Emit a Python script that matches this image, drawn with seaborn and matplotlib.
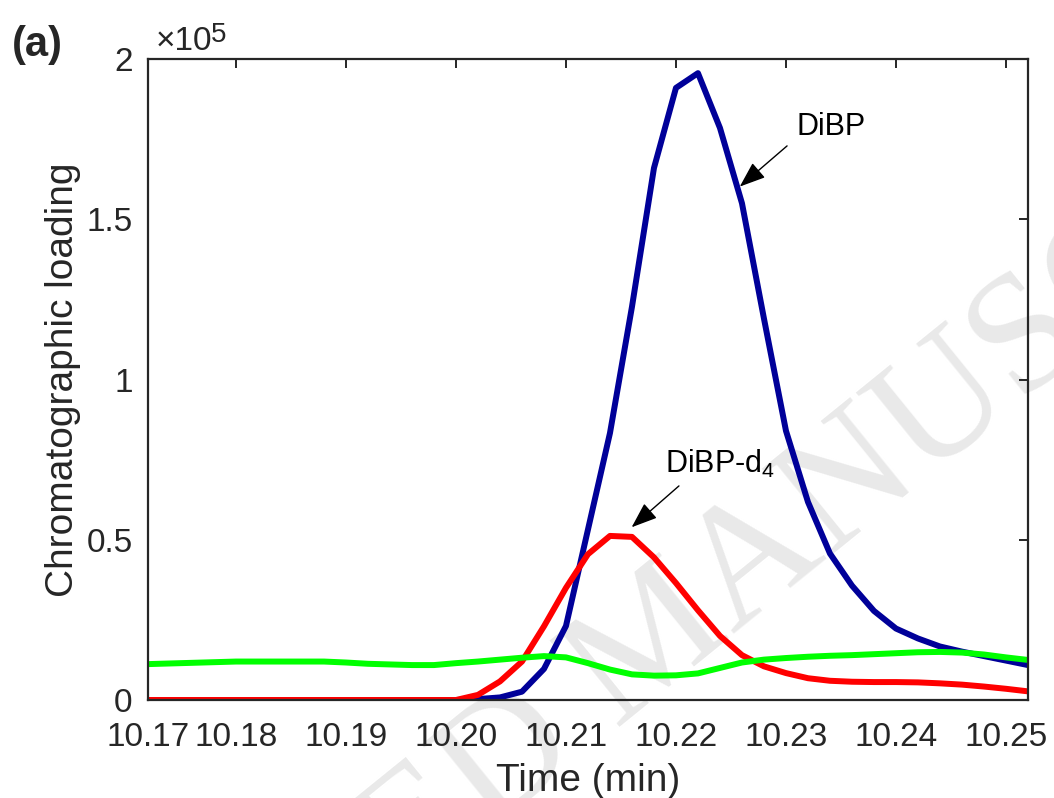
import numpy as np
import pandas as pd
import seaborn as sns
import matplotlib.pyplot as plt

# retention time (min)
time = [10.172, 10.174, 10.176, 10.178, 10.180, 10.182, 10.184, 10.186, 10.188, 10.190,
        10.192, 10.194, 10.196, 10.198, 10.200, 10.202, 10.204, 10.206, 10.208, 10.210,
        10.212, 10.214, 10.216, 10.218, 10.220, 10.222, 10.224, 10.226, 10.228, 10.230,
        10.232, 10.234, 10.236, 10.238, 10.240, 10.242, 10.244, 10.246, 10.248, 10.250,
        10.252]

# chromatographic loadings, in units of 1e5
dibp = [0, 0, 0, 0, 0, 0, 0, 0, 0, 0,
        0, 0, 0, 0, 0, 0.003, 0.008, 0.026, 0.097, 0.231,
        0.532, 0.833, 1.227, 1.66, 1.91, 1.956, 1.785, 1.55, 1.19, 0.84,
        0.618, 0.457, 0.357, 0.278, 0.223, 0.192, 0.167, 0.151, 0.137, 0.123,
        0.109]
dibp_d4 = [0, 0, 0, 0, 0, 0, 0, 0, 0, 0,
           0, 0, 0, 0, 0, 0.016, 0.058, 0.12, 0.23, 0.35,
           0.455, 0.512, 0.509, 0.445, 0.365, 0.28, 0.20, 0.14, 0.105, 0.084,
           0.068, 0.06, 0.057, 0.056, 0.056, 0.055, 0.052, 0.048, 0.042, 0.035,
           0.027]
background = [0.112, 0.114, 0.116, 0.118, 0.12, 0.12, 0.12, 0.12, 0.12, 0.117,
              0.113, 0.111, 0.109, 0.109, 0.115, 0.12, 0.126, 0.132, 0.137, 0.133,
              0.115, 0.095, 0.08, 0.076, 0.077, 0.083, 0.10, 0.117, 0.126, 0.131,
              0.135, 0.138, 0.140, 0.143, 0.146, 0.149, 0.150, 0.148, 0.142, 0.133,
              0.125]

xtick_vals = [10.172, 10.18, 10.19, 10.20, 10.21, 10.22, 10.23, 10.24, 10.25]
xtick_labels = ['10.17', '10.18', '10.19', '10.20', '10.21', '10.22', '10.23', '10.24', '10.25']
ytick_vals = [0, 0.5, 1, 1.5, 2]
ytick_labels = ['0', '0.5', '1', '1.5', '2']

df = pd.DataFrame({
    'time': time * 3,
    'loading': dibp + dibp_d4 + background,
    'comp': ['DiBP'] * len(time) + ['DiBP-d4'] * len(time) + ['bg'] * len(time),
})

sns.set_style('white')
plt.rcParams['font.family'] = ['Liberation Sans', 'DejaVu Sans']
plt.rcParams['mathtext.fontset'] = 'custom'
plt.rcParams['mathtext.rm'] = 'Liberation Sans'
plt.rcParams['mathtext.it'] = 'Liberation Sans:italic'
plt.rcParams['mathtext.bf'] = 'Liberation Sans:bold'

fig = plt.figure(figsize=(10.54, 7.98), dpi=100)
fig.patch.set_facecolor('white')
ax = fig.add_axes([0.1404, 0.1228, 0.8349, 0.8032])
ax.set_facecolor('none')

# watermark
fig.text(0.625, 0.195, 'ACCEPTED MANUSCRIPT', rotation=39, rotation_mode='anchor',
         ha='center', va='center', fontsize=122, family='Liberation Serif',
         color='#e9e9e9', zorder=-5)

pal = {'bg': '#00ff00', 'DiBP': '#000099', 'DiBP-d4': '#ff0000'}
sns.lineplot(data=df, x='time', y='loading', hue='comp', palette=pal,
             hue_order=['DiBP', 'DiBP-d4', 'bg'], linewidth=4.3,
             legend=False, ax=ax, estimator=None, sort=False)

ax.set_xlim(10.172, 10.252)
ax.set_ylim(0, 2)
ax.set_xticks(xtick_vals)
ax.set_xticklabels(xtick_labels)
ax.set_yticks(ytick_vals)
ax.set_yticklabels(ytick_labels)

dark = '#262626'
for s in ax.spines.values():
    s.set_visible(True)
    s.set_color(dark)
    s.set_linewidth(1.6)
ax.tick_params(direction='in', length=6.5, width=1.4, colors=dark,
               labelsize=24, top=True, right=True)
ax.tick_params(axis='y', pad=11)
ax.tick_params(axis='x', pad=16)

ax.set_xlabel('Time (min)', fontsize=28, color=dark, labelpad=7)
ax.set_ylabel('Chromatographic loading', fontsize=28, color=dark, labelpad=4)

# exponent label
fig.text(212 / 1054, 1 - 50 / 798, '×10', fontsize=24, color=dark,
         ha='right', va='baseline')
fig.text(211 / 1054, 1 - 42 / 798, '5', fontsize=20, color=dark,
         ha='left', va='baseline')
fig.text(37 / 1054, 1 - 45 / 798, '(a)', fontsize=30, fontweight='bold',
         ha='center', va='center')

# annotations
arrow = dict(arrowstyle='-|>,head_length=0.8,head_width=0.3', mutation_scale=20,
             color='black', lw=1, shrinkA=0, shrinkB=0)
ax.annotate('', xy=(10.2258, 1.602), xytext=(10.2301, 1.729), arrowprops=arrow)
ax.text(10.2310, 1.763, 'DiBP', fontsize=22, color='black', ha='left', va='baseline')

ax.annotate('', xy=(10.21597, 0.539), xytext=(10.22027, 0.668), arrowprops=arrow)
ax.text(10.2190, 0.708, r'DiBP-d$_{4}$', fontsize=22, color='black', ha='left', va='baseline')

fig.savefig('out.png', dpi=100)
